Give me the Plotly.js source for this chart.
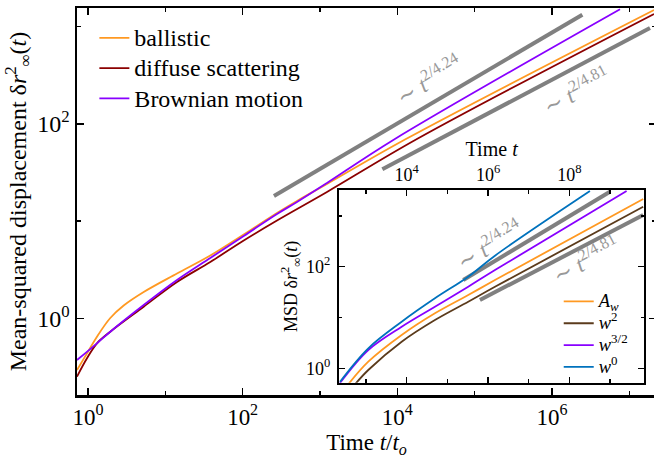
<!DOCTYPE html>
<html>
<head>
<meta charset="utf-8">
<script src="https://cdn.plot.ly/plotly-3.0.1.min.js"></script>
<style>
html,body{margin:0;padding:0;overflow:hidden;background:#fff;width:654px;height:458px;}
#chart{width:658px;height:458px;}
</style>
</head>
<body>
<div id="chart"></div>
<script>
// ---- main panel data ----
const ballisticT   = [0.721, 0.971, 1.307, 1.943, 2.895, 5.253, 14.16, 38.15, 103.2, 278.1, 504.4, 1232, 12570, 2.086e7];
const ballisticMSD = [0.294, 0.436, 0.647, 1.007, 1.354, 1.865, 2.891, 4.428, 7.28, 12.12, 16.1, 24.09, 69.1, 1485];
const diffuseT     = [0.721, 0.971, 1.307, 1.943, 5.253, 14.16, 38.15, 103.2, 278.1, 1232, 18670, 2.086e7];
const diffuseMSD   = [0.251, 0.388, 0.553, 0.728, 1.316, 2.363, 3.795, 6.315, 10.14, 19.93, 71.11, 1351];
const brownianT    = [0.721, 1.307, 1.943, 5.253, 14.16, 38.15, 103.2, 278.1, 504.4, 1232, 8872, 7.586e6];
const brownianMSD  = [0.372, 0.553, 0.728, 1.370, 2.478, 4.173, 7.026, 11.83, 15.72, 24.66, 68.32, 1510];
const guide424T    = [254, 2.47e6];
const guide424MSD  = [18.1, 1328];
const guide481T    = [6400, 1.85e7];
const guide481MSD  = [34.1, 970];

// ---- inset data ----
const awT    = [367, 1140, 7540, 49500, 3.26e5, 1.48e6, 6.5e9];
const awMSD  = [0.484, 1.35, 4.53, 12.1, 27.7, 54.7, 2150];
const w2T    = [537, 1140, 7540, 49500, 3.26e5, 1.48e6, 6.5e9];
const w2MSD  = [0.484, 0.926, 3.34, 8.93, 20.5, 40.4, 1518];
const w32T   = [230, 1140, 7540, 49500, 3.26e5, 1.48e6, 2.54e9];
const w32MSD = [0.515, 2.29, 6.59, 16.3, 40.4, 86.1, 3090];
const w0T    = [230, 1140, 7540, 49500, 3.26e5, 1.48e6, 3.19e8];
const w0MSD  = [0.545, 2.48, 8.27, 23.9, 63.6, 165, 3090];
const inGuide424T   = [2.46e5, 9.89e8];
const inGuide424MSD = [54.7, 2995];
const inGuide481T   = [6.32e5, 6.5e9];
const inGuide481MSD = [22.1, 1042];

// ---- tick labels ----
const mainXTicks = [1, 100, 1e4, 1e6];
const mainXText  = ['10<sup>0</sup>', '10<sup>2</sup>', '10<sup>4</sup>', '10<sup>6</sup>'];
const mainXMinor = [10, 1000, 1e5, 1e7];
const mainYTicks = [1, 100];
const mainYText  = ['10<sup>0</sup>', '10<sup>2</sup>'];
const mainYMinor = [10, 1000];
const inXTicks = [1e4, 1e6, 1e8];
const inXText  = ['10<sup>4</sup>', '10<sup>6</sup>', '10<sup>8</sup>'];
const inXMinor = [1000, 1e5, 1e7, 1e9];
const inYTicks = [1, 100];
const inYText  = ['10<sup>0</sup>', '10<sup>2</sup>'];
const inYMinor = [10, 1000];

const ORANGE = '#ff9922', DARKRED = '#8b0000', PURPLE = '#8800ff', BROWN = '#5b3b1c', BLUE = '#0072bd', GRAY = '#808080';
const SM = 1.0;
const big = s => '<span style="font-size:24px">' + s + '</span>';
const mid = s => '<span style="font-size:18.5px">' + s + '</span>';

const traces = [
  {x: guide424T, y: guide424MSD, mode: 'lines', line: {color: GRAY, width: 4}, showlegend: false, hoverinfo: 'skip'},
  {x: guide481T, y: guide481MSD, mode: 'lines', line: {color: GRAY, width: 4}, showlegend: false, hoverinfo: 'skip'},
  {x: ballisticT, y: ballisticMSD, name: big('ballistic'), mode: 'lines', line: {color: ORANGE, width: 1.8, shape: 'spline', smoothing: SM}},
  {x: diffuseT, y: diffuseMSD, name: big('diffuse scattering'), mode: 'lines', line: {color: DARKRED, width: 1.8, shape: 'spline', smoothing: SM}},
  {x: brownianT, y: brownianMSD, name: big('Brownian motion'), mode: 'lines', line: {color: PURPLE, width: 1.8, shape: 'spline', smoothing: SM}},

  {x: inGuide424T, y: inGuide424MSD, xaxis: 'x2', yaxis: 'y2', mode: 'lines', line: {color: GRAY, width: 4}, showlegend: false, hoverinfo: 'skip'},
  {x: inGuide481T, y: inGuide481MSD, xaxis: 'x2', yaxis: 'y2', mode: 'lines', line: {color: GRAY, width: 4}, showlegend: false, hoverinfo: 'skip'},
  {x: awT, y: awMSD, xaxis: 'x2', yaxis: 'y2', legend: 'legend2', name: mid('<i>A</i><sub><i>w</i></sub>'), mode: 'lines', line: {color: ORANGE, width: 1.8, shape: 'spline', smoothing: SM}},
  {x: w2T, y: w2MSD, xaxis: 'x2', yaxis: 'y2', legend: 'legend2', name: mid('<i>w</i><sup>2</sup>'), mode: 'lines', line: {color: BROWN, width: 1.8, shape: 'spline', smoothing: SM}},
  {x: w32T, y: w32MSD, xaxis: 'x2', yaxis: 'y2', legend: 'legend2', name: mid('<i>w</i><sup>3/2</sup>'), mode: 'lines', line: {color: PURPLE, width: 1.8, shape: 'spline', smoothing: SM}},
  {x: w0T, y: w0MSD, xaxis: 'x2', yaxis: 'y2', legend: 'legend2', name: mid('<i>w</i><sup>0</sup>'), mode: 'lines', line: {color: BLUE, width: 1.8, shape: 'spline', smoothing: SM}}
];

function axisBase(lw, tl, mtl, fs) {
  return {
    type: 'log', showline: true, linewidth: lw, linecolor: 'black', mirror: 'allticks',
    ticks: 'inside', ticklen: tl, tickwidth: 1.3, tickcolor: 'black', tickmode: 'array',
    tickfont: {size: fs}, showgrid: false, zeroline: false,
    minor: {tickmode: 'array', ticks: 'inside', ticklen: mtl, tickwidth: 1.3, tickcolor: 'black', showgrid: false}
  };
}

const xMain = Object.assign(axisBase(2.5, 7, 4, 23), {
  range: [-0.142, 7.345], domain: [0, 1], anchor: 'y',
  tickvals: mainXTicks, ticktext: mainXText,
  title: {text: 'Time <i>t</i>/<i>t</i><sub><i>o</i></sub>', standoff: 5, font: {size: 23}}
});
xMain.minor.tickvals = mainXMinor;
const yMain = Object.assign(axisBase(2.5, 7, 4, 24), {
  range: [-0.789, 3.192], domain: [0, 1], anchor: 'x',
  tickvals: mainYTicks, ticktext: mainYText,
  title: {text: 'Mean-squared displacement δ<i>r</i><sup>2</sup><sub>∞</sub>(<i>t</i>)', standoff: 4, font: {size: 24}}
});
yMain.minor.tickvals = mainYMinor;
const xIn = Object.assign(axisBase(2, 6, 3.5, 18), {
  range: [2.337, 9.84], domain: [0.4525, 0.9798], anchor: 'y2', side: 'top',
  tickvals: inXTicks, ticktext: inXText, ticklabelstandoff: 0,
  title: {text: 'Time <i>t</i>', standoff: 0, font: {size: 20}}
});
xIn.minor.tickvals = inXMinor;
const yIn = Object.assign(axisBase(2, 6, 3.5, 18), {
  range: [-0.283, 3.51], domain: [0.0318, 0.5297], anchor: 'x2',
  tickvals: inYTicks, ticktext: inYText, ticklabelstandoff: 3,
  title: {text: 'MSD δ<i>r</i><sup>2</sup><sub>∞</sub>(<i>t</i>)', standoff: 4, font: {size: 18}}
});
yIn.minor.tickvals = inYMinor;

const TXT = '#999999';
const layout = {
  width: 658, height: 458,
  margin: {l: 77, r: 2, t: 8, b: 63},
  paper_bgcolor: 'white', plot_bgcolor: 'white',
  font: {family: '"Liberation Serif", "DejaVu Serif", serif', size: 21, color: 'black'},
  xaxis: xMain, yaxis: yMain, xaxis2: xIn, yaxis2: yIn,
  legend: {x: 0.03, y: 0.975, xanchor: 'left', yanchor: 'top', bgcolor: 'rgba(0,0,0,0)', font: {size: 21}},
  legend2: {x: 0.832, y: 0.283, xanchor: 'left', yanchor: 'top', bgcolor: 'rgba(0,0,0,0)', font: {size: 14.5}},
  annotations: [
    {xref: 'paper', yref: 'paper', x: 0.608, y: 0.814, text: '∼ <i>t</i><sup>2/4.24</sup>', showarrow: false, textangle: -31, font: {size: 23, color: TXT}, xanchor: 'center', yanchor: 'middle'},
    {xref: 'paper', yref: 'paper', x: 0.862, y: 0.788, text: '∼ <i>t</i><sup>2/4.81</sup>', showarrow: false, textangle: -28, font: {size: 23, color: TXT}, xanchor: 'center', yanchor: 'middle'},
    {xref: 'paper', yref: 'paper', x: 0.7116, y: 0.390, text: '∼ <i>t</i><sup>2/4.24</sup>', showarrow: false, textangle: -31, font: {size: 23, color: TXT}, xanchor: 'center', yanchor: 'middle'},
    {xref: 'paper', yref: 'paper', x: 0.879, y: 0.349, text: '∼ <i>t</i><sup>2/4.81</sup>', showarrow: false, textangle: -28, font: {size: 23, color: TXT}, xanchor: 'center', yanchor: 'middle'}
  ]
};

Plotly.newPlot('chart', traces, layout, {displayModeBar: false, staticPlot: true});
</script>
</body>
</html>
